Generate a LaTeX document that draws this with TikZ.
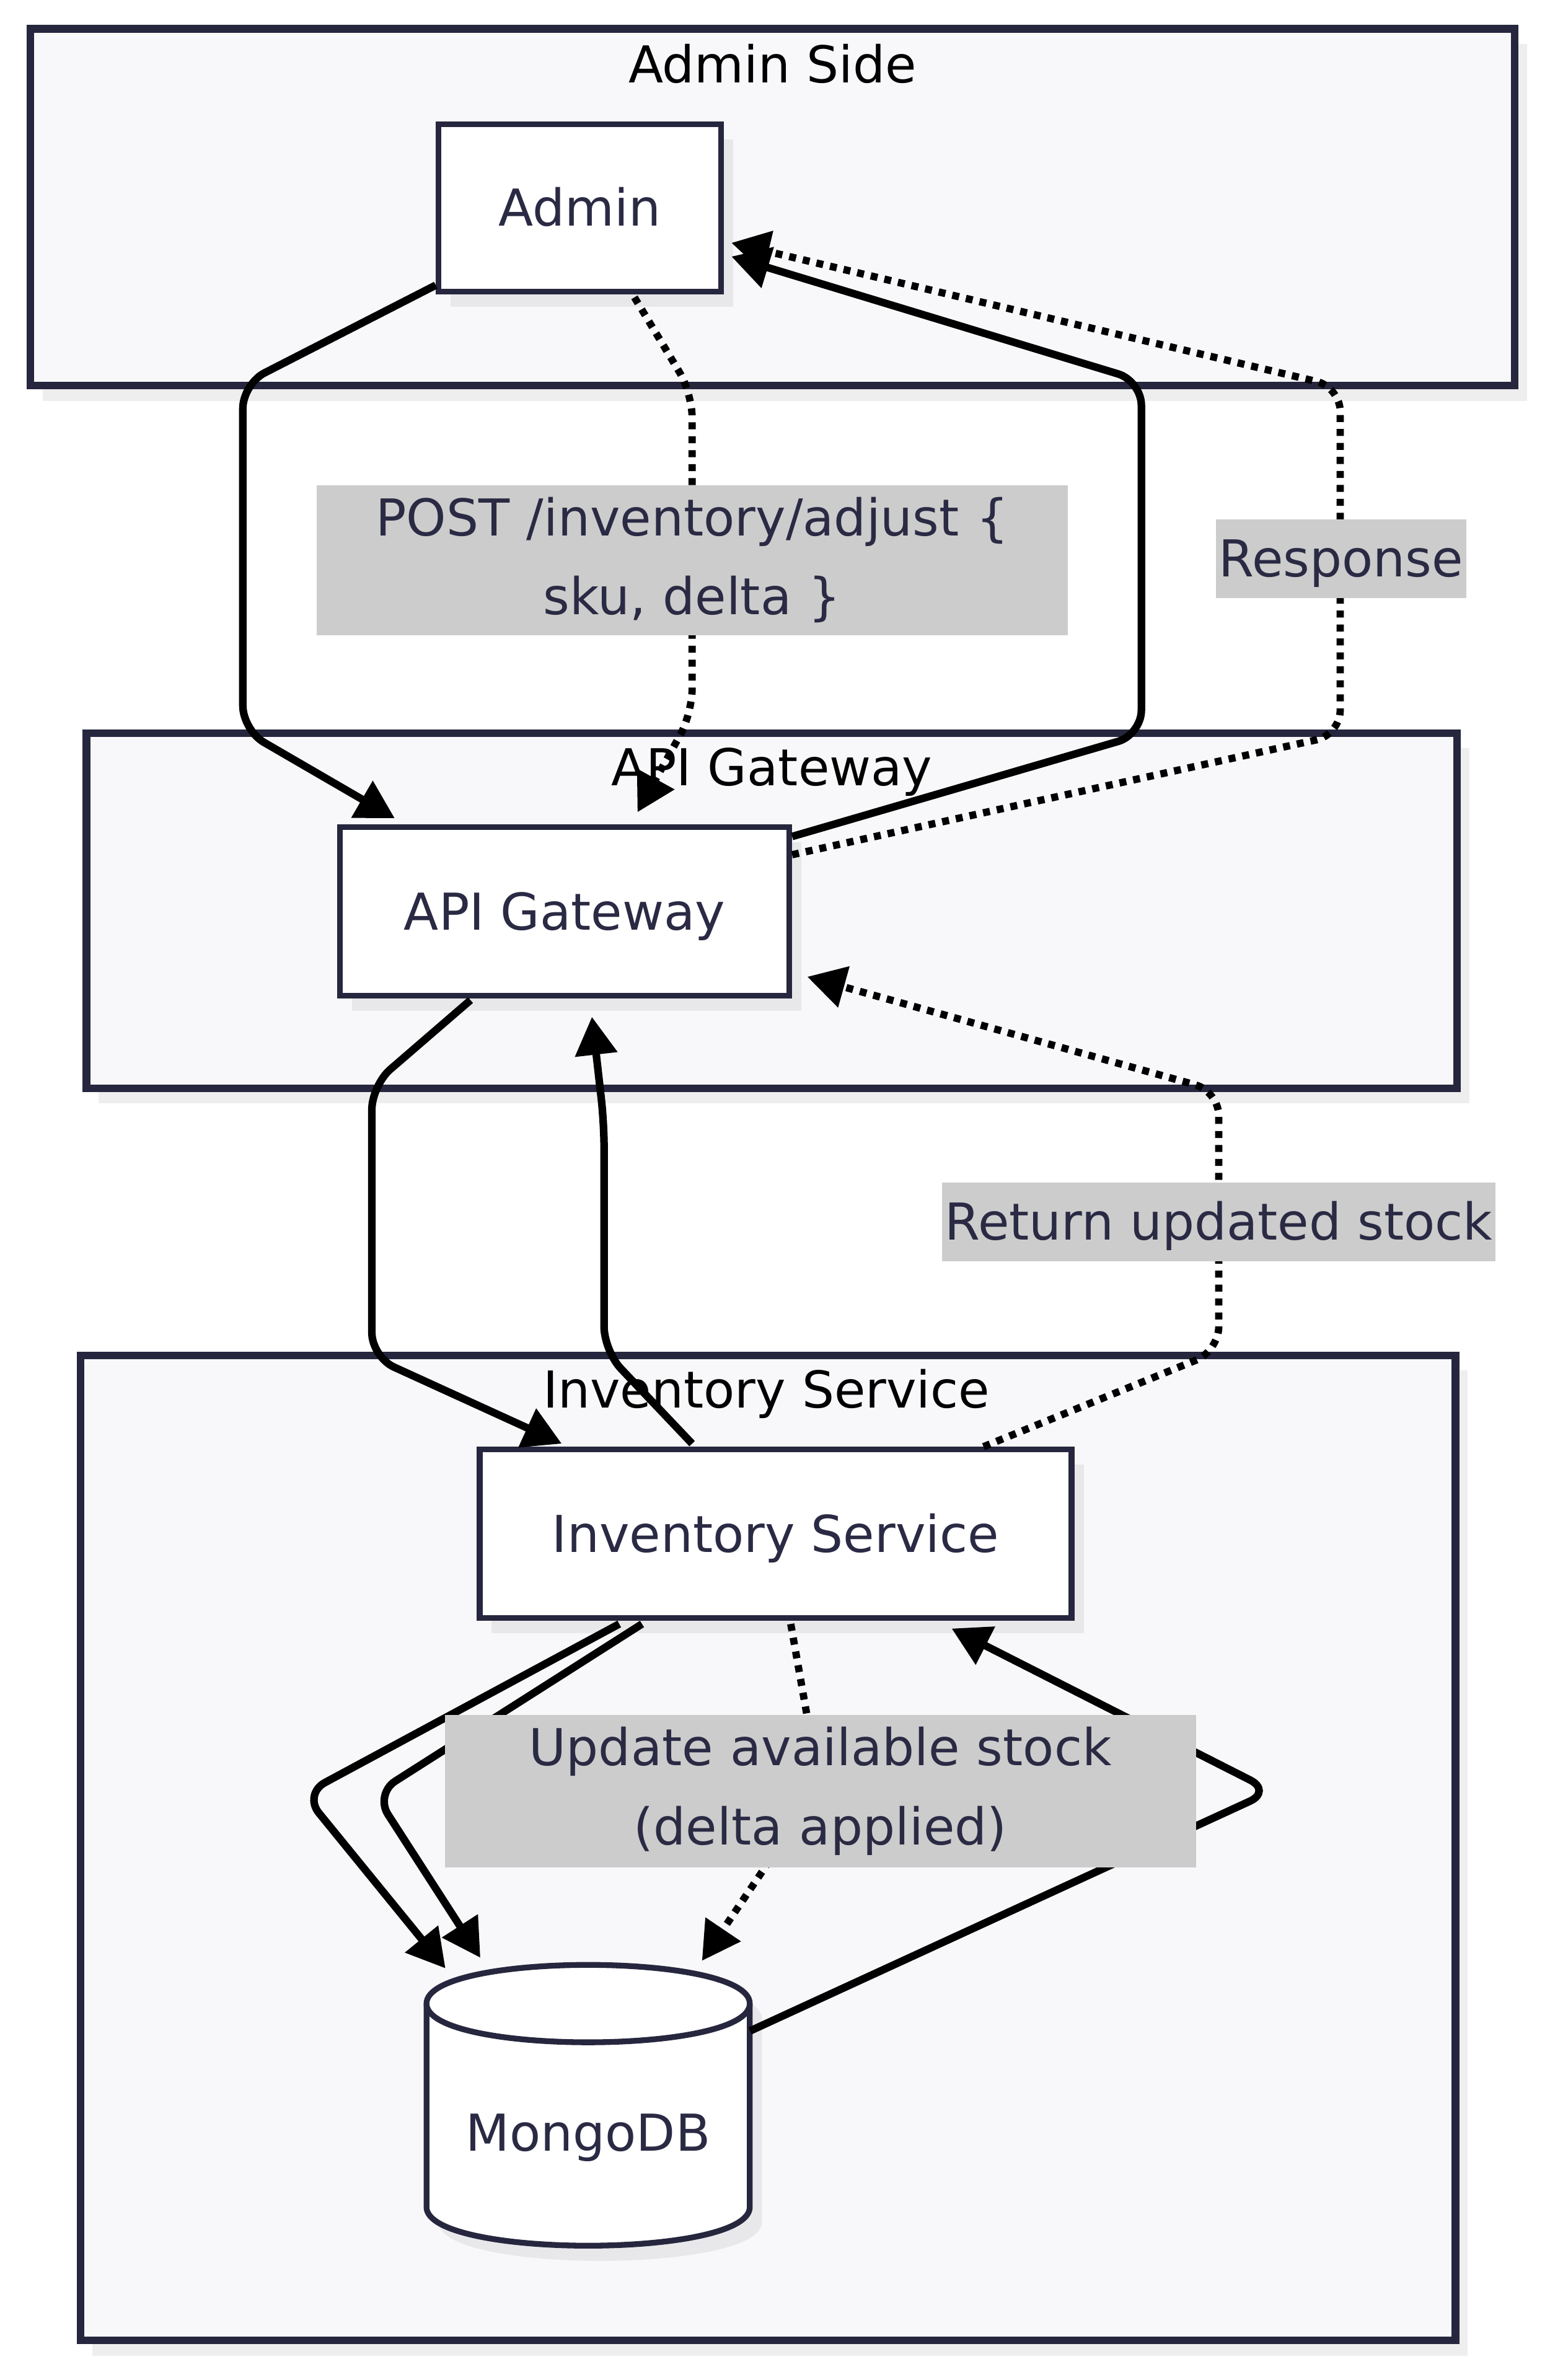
\documentclass[tikz,border=0pt]{standalone}
\usepackage{fontspec}
\setmainfont{DejaVu Sans}
\usepackage{tikz}
\usetikzlibrary{arrows.meta,calc,positioning,shadows}
\definecolor{ink}{HTML}{26263E}
\definecolor{navy}{HTML}{2A2A44}
\definecolor{groupbg}{HTML}{F8F8FA}
\definecolor{nodeshade}{HTML}{E8E8EB}
\definecolor{groupshade}{HTML}{EEEEEE}
\definecolor{lblbg}{HTML}{CCCCCC}
\newcommand{\diagfont}{\fontsize{33.5}{52}\selectfont}

\begin{document}
\begin{tikzpicture}[x=1pt,y=-1pt,
  cluster/.style={draw=ink,line width=5pt,fill=groupbg,inner sep=0pt,drop shadow={shadow xshift=8pt,shadow yshift=-10pt,fill=groupshade,opacity=1}},
  grouptitle/.style={font=\diagfont,text=black,inner sep=0pt,text height=30pt,text depth=6pt},
  svc/.style={draw=ink,line width=3.8pt,fill=white,text=navy,font=\diagfont,inner sep=0pt,text height=30pt,text depth=6pt,drop shadow={shadow xshift=8pt,shadow yshift=-10pt,fill=nodeshade,opacity=1}},
  lbl/.style={fill=lblbg,text=navy,font=\diagfont,inner xsep=2pt,inner ysep=9pt,text height=29pt,text depth=5pt},
  lbltwo/.style={fill=lblbg,text=navy,font=\diagfont,inner xsep=0pt,inner ysep=8pt,text width=495pt,align=center},
  flow/.style={draw=black,line width=5pt,rounded corners=16pt,-{Triangle[length=25pt,width=27pt]}},
  reply/.style={flow,line width=4.8pt,dash pattern=on 4.6pt off 4.6pt}]
  \useasboundingbox[fill=white] (0,0) rectangle (1021,1568);
  % subgraphs
  \node[cluster,minimum width=978pt,minimum height=235pt] (adminside) at (509,136.5) {};
  \node[cluster,minimum width=903pt,minimum height=234pt] (apiside) at (508.5,600) {};
  \node[cluster,minimum width=906pt,minimum height=649pt] (invside) at (506,1217.5) {};
  \node[grouptitle] (adminsidettl) at ($(adminside.north)+(0,26)$) {Admin Side};
  \node[grouptitle] (apisidettl) at ($(apiside.north)+(0,25)$) {API Gateway};
  \node[grouptitle] (invsidettl) at ($(invside.north)+(-1,25)$) {Inventory Service};
  % nodes
  \node[svc,minimum width=186pt,minimum height=110pt] (admin) at (382,137) {Admin};
  \node[svc,minimum width=296pt,minimum height=111pt] (api) at (372,600.5) {API Gateway};
  \node[svc,minimum width=390pt,minimum height=111pt] (inv) at (511,1010.5) {Inventory Service};
  \node[minimum width=213pt,minimum height=186pt,inner sep=0pt] (mongo) at (387.5,1387) {};
  \fill[nodeshade] (289,1330) -- (289,1464) .. controls (289,1498) and (502,1498) .. (502,1464) -- (502,1330) .. controls (502,1296) and (289,1296) .. (289,1330) -- cycle;
  \draw[ink,line width=3.8pt,fill=white] (281,1320) -- (281,1454) .. controls (281,1488) and (494,1488) .. (494,1454) -- (494,1320) .. controls (494,1286) and (281,1286) .. (281,1320) -- cycle;
  \draw[ink,line width=3.8pt] (281,1320) .. controls (281,1354) and (494,1354) .. (494,1320);
  \node[text=navy,font=\diagfont,text height=30pt,text depth=6pt] (mongolbl) at ($(mongo.center)+(0,18)$) {MongoDB};
  % edges
  \draw[flow] ($(admin.south west)+(0,-6)$) -- (160,253) -- (160,481) -- ($(api.north west)+(38,-4)$);
  \draw[reply] ($(admin.south)+(36,2)$) -- (456,259) -- (456,470) -- ($(api.north)+(48,-8)$);
  \draw[flow] ($(api.north east)+(0,8)$) -- (752,484) -- (752,251) -- ($(admin.east)+(5,32)$);
  \draw[reply] ($(api.north east)+(0,20)$) -- (883,484) -- (883,255) -- ($(admin.east)+(5,23)$);
  \draw[flow] ($(api.south)+(-62,1)$) -- (245,715) -- (245,894) -- ($(inv.north west)+(56,-2)$);
  \draw[flow] ($(inv.north)+(-55,-2)$) -- (398,890) -- (398,740) -- ($(api.south)+(18,12)$);
  \draw[reply] ($(inv.north)+(137,0)$) -- (803,890) -- (803,719) -- ($(api.east)+(10,43)$);
  \draw[flow] ($(inv.south)+(-103,2)$) -- (200,1182) -- ($(mongo.north)+(-94,3)$);
  \draw[flow] ($(inv.south)+(-88,2)$) -- (247,1182) -- ($(mongo.north)+(-71,-4)$);
  \draw[reply] ($(inv.south)+(10,2)$) -- (540,1177) -- ($(mongo.north)+(75,-2)$);
  \draw[flow] ($(mongo.east)+(0,-49)$) -- (838,1180) -- ($(inv.south)+(116,5)$);
  % edge labels
  \node[lbltwo] (postlbl) at (456,369) {POST /inventory/adjust \{\\ sku, delta \}};
  \node[lbl] (resplbl) at (883.5,368) {Response};
  \node[lbl] (retlbl) at (803,805) {Return updated stock};
  \node[lbltwo] (updlbl) at (540.5,1180) {Update available stock\\ (delta applied)};
\end{tikzpicture}
\end{document}
